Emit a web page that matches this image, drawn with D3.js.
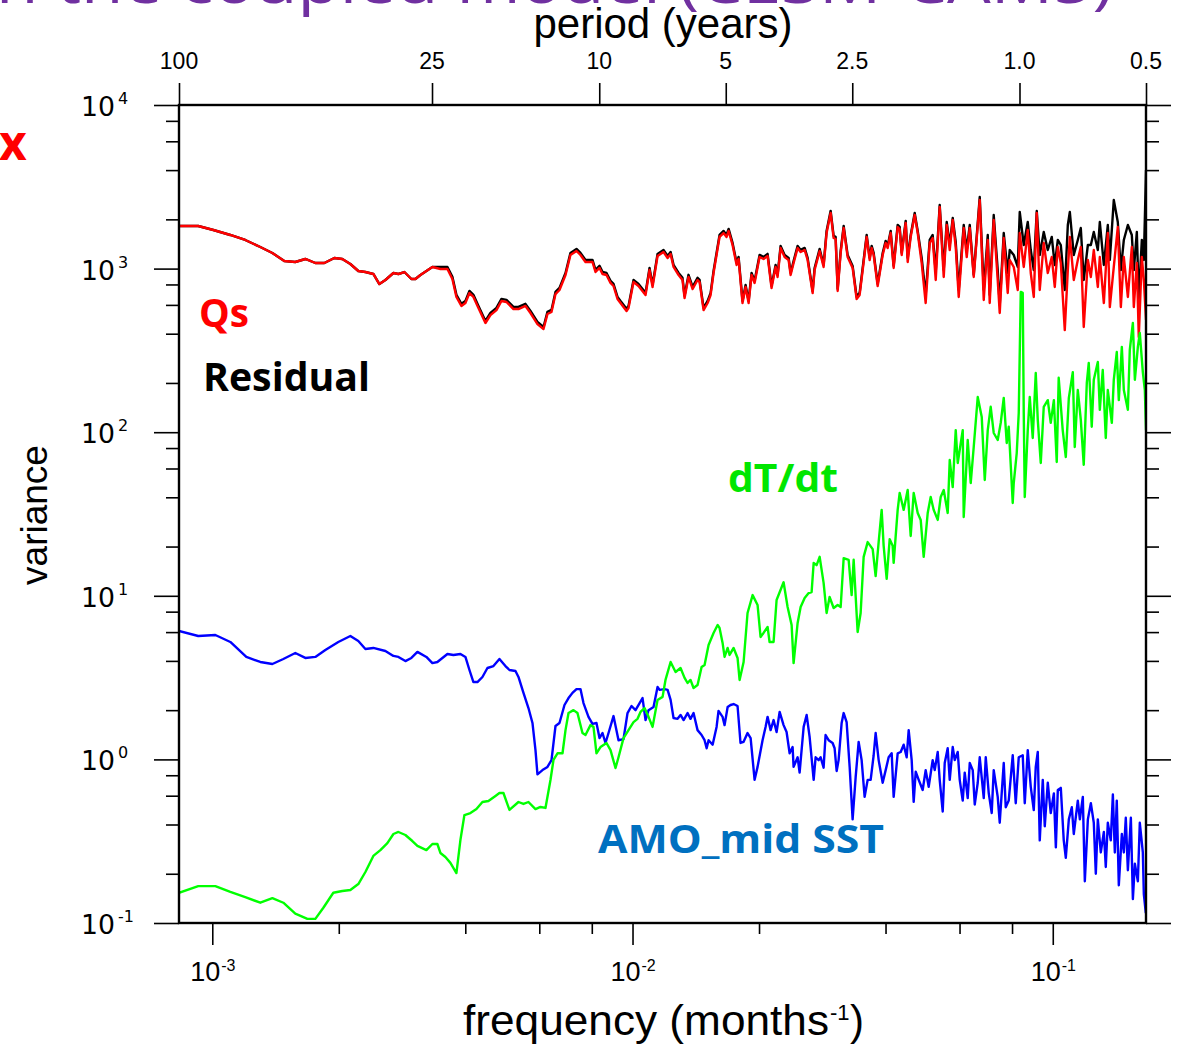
<!DOCTYPE html>
<html>
<head>
<meta charset="utf-8">
<script src="https://cdn.jsdelivr.net/npm/d3@7"></script>
<style>
  body { margin: 0; background: #fff; }
  svg { display: block; }
</style>
</head>
<body>
<svg id="chart" width="1179" height="1044"></svg>
<script>
// ---- data: [frequency (months^-1), variance] ----
var qs = [
  [0.000833,1822],[0.000926,1822],[0.001006,1722],[0.001104,1605],[0.001198,1496],[0.001301,1355],
  [0.00139,1245],[0.001484,1113],[0.001576,1097],[0.001665,1145],[0.001759,1082],[0.001848,1082],
  [0.001952,1161],[0.002039,1145],[0.002131,1067],[0.002226,967],[0.002314,953],[0.002417,927],
  [0.002498,805],[0.002582,852],[0.002698,940],[0.002773,927],[0.002865,953],[0.002977,864],
  [0.003043,864],[0.003128,914],[0.00334,1023],[0.00349,994],[0.003627,994],[0.003727,864],
  [0.00381,671],[0.003916,591],[0.004003,616],[0.004092,709],[0.004182,671],[0.004299,574],
  [0.004467,465],[0.004591,520],[0.004745,558],[0.004877,634],[0.005012,625],[0.005208,566],
  [0.005353,566],[0.005562,591],[0.005717,535],[0.00594,458],[0.00614,427],[0.006275,528],
  [0.006415,543],[0.006557,699],[0.006702,740],[0.006927,914],[0.007117,1211],[0.007356,1281],
  [0.007519,1211],[0.007728,1097],[0.00803,1097],[0.008164,953],[0.008345,1009],[0.008483,927],
  [0.008671,914],[0.008864,817],[0.00901,783],[0.00921,652],[0.009363,616],[0.009677,551],
  [0.009783,574],[0.010055,828],[0.010334,783],[0.010739,690],[0.010977,980],[0.01116,772],
  [0.01147,1194],[0.01185,1263],[0.01212,1161],[0.01232,1228],[0.01252,1023],[0.01287,914],
  [0.01315,852],[0.0133,661],[0.01359,889],[0.0139,750],[0.01428,852],[0.01444,828],
  [0.01476,558],[0.01509,616],[0.01534,690],[0.01559,940],[0.01611,1561],[0.01647,1650],
  [0.01674,1561],[0.01693,1698],[0.0173,1394],[0.01769,1052],[0.01788,1145],[0.01827,616],
  [0.01858,772],[0.01889,616],[0.0192,914],[0.01952,817],[0.02006,1177],[0.0205,1145],
  [0.02096,1194],[0.02142,761],[0.0219,1023],[0.02214,889],[0.02251,1336],[0.02301,1177],
  [0.02352,1129],[0.02378,914],[0.02417,1082],[0.02471,1336],[0.02512,1263],[0.02568,1299],
  [0.0261,1129],[0.02683,709],[0.02712,980],[0.02788,1281],[0.02849,1023],[0.02896,1650],
  [0.02961,2188],[0.0301,1538],[0.03043,1517],[0.03077,730],[0.03128,1245],[0.0318,1771],
  [0.0325,1177],[0.0334,1009],[0.03414,652],[0.03471,690],[0.03548,1097],[0.03607,1561],
  [0.03667,1129],[0.03707,1336],[0.03748,1211],[0.03831,783],[0.03938,1211],[0.04003,1434],
  [0.04047,1336],[0.04114,1650],[0.04182,1009],[0.04275,1796],[0.04322,1746],[0.0437,1211],
  [0.04467,1900],[0.04516,1097],[0.04591,1561],[0.04693,2126],[0.04771,1650],[0.04876,1082],
  [0.04984,616],[0.05095,1434],[0.05179,1538],[0.05266,852],[0.05382,2379],[0.05502,889],
  [0.05593,1847],[0.05686,1299],[0.0578,1982],[0.05876,1355],[0.05973,671],[0.06139,1771],
  [0.06241,1177],[0.06345,1771],[0.06485,889],[0.06702,2627],[0.06851,643],[0.07003,1496],
  [0.07079,616],[0.07236,1982],[0.07396,852],[0.07478,535],[0.07644,1538],[0.07813,709],
  [0.07899,1129],[0.08075,1023],[0.08254,740],[0.08345,1650],[0.0853,1023],[0.08719,1722],
  [0.08864,940],[0.09011,671],[0.0916,2188],[0.09311,740],[0.09518,1434],[0.0973,940],
  [0.09945,1177],[0.1011,772],[0.1028,1355],[0.1045,1082],[0.1068,421],[0.1086,980],
  [0.1098,1561],[0.1122,852],[0.1147,1129],[0.1166,1355],[0.1185,440],[0.1212,1129],
  [0.1232,889],[0.1252,1299],[0.128,772],[0.1294,1177],[0.1323,616],[0.1352,1650],
  [0.1367,582],[0.1397,1023],[0.1428,1796],[0.1452,582],[0.1476,1177],[0.1509,671],
  [0.1542,1355],[0.1559,582],[0.1585,1082],[0.1602,382],[0.1629,1177],[0.1647,852],[0.1667,485]
];

var residual = [
  [0.000833,1822],[0.000926,1822],[0.001006,1722],[0.001104,1605],[0.001198,1496],[0.001301,1355],
  [0.00139,1245],[0.001484,1113],[0.001576,1097],[0.001665,1145],[0.001759,1082],[0.001848,1082],
  [0.001952,1161],[0.002039,1145],[0.002131,1067],[0.002226,967],[0.002314,953],[0.002417,927],
  [0.002498,805],[0.002582,852],[0.002698,940],[0.002773,927],[0.002865,953],[0.002977,864],
  [0.003043,864],[0.003128,914],[0.00334,1023],[0.00349,1024],[0.003627,1024],[0.003727,890],
  [0.00381,691],[0.003916,609],[0.004003,634],[0.004092,730],[0.004182,691],[0.004299,591],
  [0.004467,479],[0.004591,536],[0.004745,575],[0.004877,653],[0.005012,644],[0.005208,583],
  [0.005353,583],[0.005562,609],[0.005717,551],[0.00594,472],[0.00614,440],[0.006275,544],
  [0.006415,559],[0.006557,720],[0.006702,762],[0.006927,941],[0.007117,1247],[0.007356,1319],
  [0.007519,1247],[0.007728,1130],[0.00803,1130],[0.008164,982],[0.008345,1039],[0.008483,955],
  [0.008671,941],[0.008864,842],[0.00901,806],[0.00921,672],[0.009363,634],[0.009677,568],
  [0.009783,591],[0.010055,853],[0.010334,806],[0.010739,711],[0.010977,1009],[0.01116,795],
  [0.01147,1230],[0.01185,1301],[0.01212,1196],[0.01232,1265],[0.01252,1054],[0.01287,941],
  [0.01315,878],[0.0133,681],[0.01359,916],[0.0139,773],[0.01428,878],[0.01444,853],
  [0.01476,575],[0.01509,634],[0.01534,711],[0.01559,968],[0.01611,1608],[0.01647,1700],
  [0.01674,1608],[0.01693,1749],[0.0173,1436],[0.01769,1084],[0.01788,1179],[0.01827,634],
  [0.01858,795],[0.01889,634],[0.0192,941],[0.01952,842],[0.02006,1212],[0.0205,1179],
  [0.02096,1230],[0.02142,784],[0.0219,1054],[0.02214,916],[0.02251,1376],[0.02301,1212],
  [0.02352,1163],[0.02378,941],[0.02417,1114],[0.02471,1376],[0.02512,1301],[0.02568,1338],
  [0.0261,1163],[0.02683,730],[0.02712,1009],[0.02788,1319],[0.02849,1054],[0.02896,1700],
  [0.02961,2254],[0.0301,1584],[0.03043,1563],[0.03077,752],[0.03128,1282],[0.0318,1824],
  [0.0325,1212],[0.0334,1039],[0.03414,672],[0.03471,711],[0.03548,1130],[0.03607,1608],
  [0.03667,1163],[0.03707,1376],[0.03748,1247],[0.03831,806],[0.03938,1247],[0.04003,1477],
  [0.04047,1376],[0.04114,1700],[0.04182,1039],[0.04275,1850],[0.04322,1798],[0.0437,1247],
  [0.04467,1957],[0.04516,1161],[0.04591,1605],[0.04693,2188],[0.04771,1698],[0.04876,1161],
  [0.04984,690],[0.05095,1496],[0.05179,1605],[0.05266,953],[0.05382,2448],[0.05502,980],
  [0.05593,1926],[0.05686,1394],[0.0578,2038],[0.05876,1455],[0.05973,740],[0.06139,1847],
  [0.06241,1299],[0.06345,1847],[0.06485,914],[0.06702,2740],[0.06851,740],[0.07003,1605],
  [0.07079,690],[0.07236,2126],[0.07396,980],[0.07478,599],[0.07644,1650],[0.07813,940],
  [0.07899,1299],[0.08075,1211],[0.08254,1023],[0.08345,2218],[0.0853,1394],[0.08719,1926],
  [0.08864,1299],[0.09011,980],[0.0916,2250],[0.09311,1211],[0.09518,1674],[0.0973,1299],
  [0.09945,1561],[0.1011,1052],[0.1028,1496],[0.1045,1394],[0.1068,740],[0.1086,1847],
  [0.1098,2218],[0.1122,1211],[0.1147,1496],[0.1166,1771],[0.1185,852],[0.1212,1394],
  [0.1232,1394],[0.1252,1674],[0.128,1299],[0.1294,1926],[0.1323,1052],[0.1352,1847],
  [0.1367,1129],[0.1397,2627],[0.1428,1926],[0.1452,980],[0.1476,1496],[0.1509,1847],
  [0.1542,1605],[0.1559,980],[0.1585,1674],[0.1602,643],[0.1629,1496],[0.1647,1129],[0.1667,4007]
];

var dTdt = [
  [0.000833,0.153],[0.000926,0.168],[0.001017,0.168],[0.001104,0.155],[0.001198,0.144],[0.001301,0.133],
  [0.00139,0.142],[0.001476,0.133],[0.001576,0.114],[0.001684,0.106],[0.001759,0.106],[0.001838,0.124],
  [0.001941,0.153],[0.002039,0.157],[0.002131,0.159],[0.002226,0.173],[0.002314,0.205],[0.002417,0.257],
  [0.002512,0.279],[0.00261,0.308],[0.002698,0.350],[0.002773,0.360],[0.002881,0.345],[0.002993,0.317],
  [0.003077,0.296],[0.003232,0.279],[0.00334,0.304],[0.003433,0.304],[0.00349,0.268],[0.003587,0.253],
  [0.003687,0.233],[0.00381,0.202],[0.003895,0.322],[0.003981,0.457],[0.004114,0.470],[0.004252,0.497],
  [0.004394,0.549],[0.004541,0.557],[0.004719,0.598],[0.004823,0.623],[0.00493,0.623],[0.005095,0.491],
  [0.005353,0.549],[0.005502,0.534],[0.005654,0.549],[0.005876,0.497],[0.006039,0.512],[0.006207,0.505],
  [0.006379,0.748],[0.006485,0.992],[0.006629,1.09],[0.006814,1.09],[0.006927,1.51],[0.007042,1.92],
  [0.007236,2.00],[0.007396,1.92],[0.007602,1.45],[0.007728,1.41],[0.007943,1.62],[0.008075,1.58],
  [0.008208,1.09],[0.008391,1.19],[0.008671,1.26],[0.008864,1.14],[0.00911,0.886],[0.009261,1.03],
  [0.009518,1.35],[0.009783,1.51],[0.010055,1.69],[0.010278,1.77],[0.010448,1.95],[0.01068,2.06],
  [0.010917,1.82],[0.01116,1.58],[0.01147,2.31],[0.01179,2.41],[0.01198,3.06],[0.01232,3.94],
  [0.01266,3.42],[0.01301,3.62],[0.0133,3.15],[0.01352,2.93],[0.01374,3.06],[0.01397,2.73],
  [0.01428,2.85],[0.0146,3.67],[0.01484,3.78],[0.01517,5.00],[0.01559,5.93],[0.01594,6.63],
  [0.01611,6.36],[0.01638,5.15],[0.01656,4.23],[0.01684,4.80],[0.01702,4.35],[0.0174,4.80],
  [0.01778,4.17],[0.01798,3.06],[0.01838,3.94],[0.01878,7.85],[0.01931,10.1],[0.01984,8.79],
  [0.02017,5.60],[0.0205,5.93],[0.02096,6.45],[0.02119,5.22],[0.02166,5.22],[0.02202,9.43],
  [0.02288,12.1],[0.02339,8.54],[0.02391,6.63],[0.02417,3.88],[0.02471,6.82],[0.02512,8.54],
  [0.02568,9.70],[0.02625,10.4],[0.02668,10.55],[0.02698,15.9],[0.02742,15.4],[0.02788,17.3],
  [0.02849,12.0],[0.02896,7.85],[0.02944,9.83],[0.0301,8.42],[0.03077,8.79],[0.03128,8.54],
  [0.0318,17.0],[0.03268,16.6],[0.03322,10.1],[0.03359,16.6],[0.03433,6.01],[0.0349,7.85],
  [0.03548,17.3],[0.03627,21.3],[0.03728,19.3],[0.03789,13.2],[0.03852,21.3],[0.03916,33.5],
  [0.03959,20.2],[0.04025,12.7],[0.04092,22.2],[0.04159,20.2],[0.04182,15.9],[0.04275,33.5],
  [0.04322,42.5],[0.04418,33.5],[0.04516,44.3],[0.04591,23.2],[0.04667,42.5],[0.04771,32.1],
  [0.0485,29.1],[0.0493,17.3],[0.0504,32.1],[0.05123,40.2],[0.05208,33.5],[0.05324,29.1],
  [0.05412,40.2],[0.05502,44.3],[0.05623,32.1],[0.05686,67.6],[0.0578,46.2],[0.05876,103],
  [0.05941,64.8],[0.06106,103],[0.06139,30.3],[0.06275,89.6],[0.06379,48.9],[0.06485,81.2],
  [0.06629,164],[0.06776,124],[0.06889,51.0],[0.07003,103],[0.07117,143],[0.07236,98.9],
  [0.07396,89.6],[0.07519,114],[0.07644,162],[0.0777,85.9],[0.07856,108],[0.0803,36.9],
  [0.08075,48.9],[0.08208,74.6],[0.08299,131],[0.08391,720],[0.08483,710],[0.0853,131],
  [0.08577,40.2],[0.08719,103],[0.08815,164],[0.08961,92.2],[0.0911,230],[0.09211,119],
  [0.09363,64.8],[0.09518,143],[0.0973,157],[0.0989,114],[0.1006,157],[0.1022,65.7],
  [0.1033,215],[0.1056,103],[0.1074,70.5],[0.1092,162],[0.1116,233],[0.1128,81.2],
  [0.1147,181],[0.1166,119],[0.1185,63.2],[0.1205,200],[0.1218,265],[0.1238,108],
  [0.1252,209],[0.128,269],[0.1294,137],[0.1315,240],[0.1337,92.2],[0.1352,181],
  [0.1382,114],[0.1397,209],[0.142,309],[0.1436,157],[0.146,332],[0.1476,181],
  [0.1509,137],[0.1525,318],[0.1551,465],[0.1568,209],[0.1594,332],[0.1611,404],
  [0.1638,233],[0.1656,181],[0.1667,103]
];

var amoMid = [
  [0.000833,6.09],[0.000926,5.68],[0.001017,5.76],[0.001104,5.22],[0.001205,4.23],[0.001301,3.94],
  [0.00139,3.83],[0.001476,4.11],[0.001576,4.47],[0.001665,4.17],[0.001759,4.23],[0.001858,4.66],
  [0.001995,5.22],[0.002131,5.68],[0.002226,5.29],[0.002314,4.73],[0.002417,4.80],[0.002582,4.60],
  [0.002698,4.29],[0.002773,4.23],[0.002881,3.99],[0.002977,4.17],[0.003077,4.54],[0.003232,4.23],
  [0.00334,3.88],[0.003433,3.94],[0.003627,4.41],[0.003748,4.35],[0.003895,4.41],[0.004003,4.23],
  [0.004092,3.52],[0.004182,2.97],[0.004275,2.97],[0.004394,3.19],[0.004516,3.62],[0.004667,3.72],
  [0.004823,4.11],[0.004984,3.72],[0.005095,3.52],[0.005266,3.47],[0.005353,3.19],[0.005502,2.55],
  [0.005654,2.06],[0.00578,1.67],[0.005876,1.14],[0.00594,0.81],[0.006106,0.86],[0.006275,0.90],
  [0.006415,0.99],[0.006557,1.60],[0.006702,1.67],[0.006888,2.15],[0.007042,2.37],[0.007196,2.55],
  [0.007356,2.69],[0.007519,2.69],[0.007644,2.21],[0.007856,1.82],[0.00803,1.65],[0.008208,1.67],
  [0.008345,1.35],[0.008483,1.45],[0.008624,1.26],[0.008768,1.45],[0.00901,1.84],[0.009261,1.31],
  [0.009518,1.33],[0.00973,1.92],[0.009945,2.12],[0.010166,2.00],[0.010564,2.37],[0.010739,1.74],
  [0.010917,2.00],[0.01122,2.09],[0.01147,2.77],[0.0116,2.66],[0.01192,2.69],[0.01212,2.66],
  [0.01232,2.31],[0.01252,1.79],[0.0128,1.77],[0.01301,1.87],[0.01323,1.74],[0.01352,1.92],
  [0.01374,1.77],[0.01397,1.92],[0.01428,1.51],[0.0146,1.41],[0.01484,1.31],[0.01501,1.17],
  [0.01517,1.31],[0.01551,1.23],[0.01585,1.58],[0.01602,1.98],[0.01638,1.82],[0.01656,1.62],
  [0.01684,2.09],[0.01711,2.15],[0.0174,2.18],[0.01778,2.12],[0.01807,1.26],[0.01838,1.28],
  [0.01878,1.45],[0.0191,1.35],[0.01952,0.75],[0.01984,0.90],[0.02039,1.31],[0.02073,1.58],
  [0.02096,1.82],[0.02131,1.51],[0.02166,1.74],[0.02202,1.47],[0.02239,1.95],[0.02288,1.62],
  [0.02326,1.47],[0.02365,1.09],[0.02404,1.19],[0.02417,0.90],[0.02471,1.03],[0.02498,0.83],
  [0.02554,1.58],[0.02596,1.87],[0.02639,1.37],[0.02698,0.75],[0.02727,1.03],[0.02773,0.99],
  [0.02803,1.03],[0.02849,0.89],[0.0288,1.41],[0.02928,1.31],[0.02993,1.26],[0.03026,1.17],
  [0.0306,0.85],[0.03093,0.99],[0.03145,1.67],[0.0318,1.92],[0.03232,1.69],[0.03286,0.90],
  [0.0334,0.43],[0.03396,0.78],[0.03452,1.28],[0.03509,0.99],[0.03567,0.59],[0.03627,0.75],
  [0.03687,0.75],[0.03748,1.06],[0.03789,1.45],[0.03852,0.99],[0.03938,0.72],[0.04003,0.86],
  [0.04069,1.03],[0.04137,1.09],[0.04182,0.59],[0.04275,1.09],[0.04346,1.11],[0.04418,1.23],
  [0.04491,1.03],[0.04541,1.51],[0.04616,0.99],[0.04667,0.55],[0.04719,0.84],[0.04797,0.75],
  [0.04903,0.65],[0.04984,0.86],[0.05067,0.68],[0.05179,0.99],[0.05237,0.86],[0.05324,1.11],
  [0.05382,0.75],[0.05472,0.48],[0.05532,0.95],[0.05623,1.17],[0.05686,0.75],[0.0578,1.19],
  [0.05844,0.99],[0.05941,1.11],[0.06006,0.75],[0.06106,0.56],[0.06173,0.83],[0.06275,0.58],
  [0.06345,0.95],[0.0645,0.86],[0.06521,0.53],[0.06629,0.72],[0.06702,1.03],[0.06851,0.58],
  [0.06927,1.03],[0.07042,0.62],[0.07157,0.47],[0.07236,0.86],[0.07396,0.59],[0.07478,0.41],
  [0.07644,0.95],[0.07728,0.51],[0.07856,0.56],[0.0803,1.06],[0.08164,0.54],[0.08299,1.03],
  [0.08483,1.06],[0.08577,0.54],[0.08719,1.14],[0.08864,0.68],[0.09011,0.49],[0.0911,0.90],
  [0.09211,1.11],[0.09311,0.32],[0.09467,0.75],[0.09571,0.39],[0.0973,0.72],[0.0989,0.47],
  [0.1006,0.62],[0.1017,0.29],[0.1028,0.65],[0.1045,0.67],[0.1062,0.32],[0.1074,0.25],
  [0.1092,0.43],[0.111,0.51],[0.1122,0.35],[0.1147,0.56],[0.116,0.43],[0.1179,0.59],
  [0.1192,0.18],[0.1212,0.43],[0.1232,0.54],[0.1252,0.41],[0.1266,0.20],[0.128,0.43],
  [0.1301,0.27],[0.1323,0.36],[0.1337,0.22],[0.1352,0.41],[0.1374,0.32],[0.139,0.61],
  [0.1405,0.27],[0.142,0.56],[0.1436,0.17],[0.146,0.35],[0.1476,0.27],[0.1492,0.44],
  [0.1509,0.21],[0.1534,0.44],[0.1551,0.14],[0.1568,0.23],[0.1594,0.18],[0.1611,0.41],
  [0.1638,0.27],[0.1647,0.15],[0.1665,0.115]
];

// axis ticks
var periodYears = [100, 25, 10, 5, 2.5, 1.0, 0.5];
var periodLabels = ["100", "25", "10", "5", "2.5", "1.0", "0.5"];
var yDecades = [-1, 0, 1, 2, 3, 4];
var xDecades = [-3, -2, -1];
var minorMult = [2, 4, 6, 8];

var svg = d3.select("#chart");
var plotL = 179, plotR = 1146, plotT = 105, plotB = 923;

var x = d3.scaleLog().domain([1 / 1200, 1 / 6]).range([plotL, plotR]);
var y = d3.scaleLog().domain([0.1, 10000]).range([plotB, plotT]);

svg.append("rect").attr("width", 1179).attr("height", 1044).attr("fill", "#fff");

svg.append("defs").append("clipPath").attr("id", "plotClip")
  .append("rect").attr("x", plotL).attr("y", plotT - 2)
  .attr("width", plotR - plotL + 1).attr("height", plotB - plotT + 2);

// title (cut off at the top of the slide)
svg.append("text")
  .attr("x", -4).attr("y", 3)
  .attr("textLength", 1117).attr("lengthAdjust", "spacingAndGlyphs")
  .style("font-family", "'Open Sans', sans-serif").style("font-size", "58px")
  .attr("fill", "#7030a0")
  .text("n the coupled model (CESM-CAM5)");

svg.append("text")
  .attr("x", -1).attr("y", 160)
  .style("font-family", "'Open Sans', sans-serif").style("font-size", "48px")
  .style("font-weight", "700").attr("fill", "#ff0000")
  .text("x");

// ticks
var yMajor = yDecades.map(function (e) { return Math.pow(10, e); });
var yMinor = [];
yDecades.slice(0, -1).forEach(function (e) {
  minorMult.forEach(function (m) { yMinor.push(m * Math.pow(10, e)); });
});
var xMajor = xDecades.map(function (e) { return Math.pow(10, e); });
var xMinor = [];
[-3, -2].forEach(function (e) {
  minorMult.forEach(function (m) { xMinor.push(m * Math.pow(10, e)); });
});
var periodFreq = periodYears.map(function (p) { return 1 / (12 * p); });

function tickAxis(axis, values, size, transform) {
  var g = svg.append("g").attr("transform", transform)
    .call(axis.tickValues(values).tickSize(size).tickFormat(""));
  g.select(".domain").remove();
  g.selectAll("line").attr("stroke", "#000").attr("stroke-width", 1.6);
  return g;
}
tickAxis(d3.axisLeft(y), yMajor, 25, "translate(" + plotL + ",0)");
tickAxis(d3.axisLeft(y), yMinor, 13, "translate(" + plotL + ",0)");
tickAxis(d3.axisRight(y), yMajor, 25, "translate(" + plotR + ",0)");
tickAxis(d3.axisRight(y), yMinor, 13, "translate(" + plotR + ",0)");
tickAxis(d3.axisBottom(x), xMajor, 22, "translate(0," + plotB + ")");
tickAxis(d3.axisBottom(x), xMinor, 11, "translate(0," + plotB + ")");
tickAxis(d3.axisTop(x), periodFreq, 22, "translate(0," + plotT + ")");

// series lines
var line = d3.line()
  .x(function (d) { return x(d[0]); })
  .y(function (d) { return y(d[1]); });

var lines = svg.append("g").attr("clip-path", "url(#plotClip)");
[
  { data: residual, color: "#000000" },
  { data: qs, color: "#ff0000" },
  { data: amoMid, color: "#0000ff" },
  { data: dTdt, color: "#00ff00" }
].forEach(function (s) {
  lines.append("path").datum(s.data)
    .attr("d", line)
    .attr("fill", "none")
    .attr("stroke", s.color)
    .attr("stroke-width", 2.4)
    .attr("stroke-linejoin", "round");
});

// frame
svg.append("rect")
  .attr("x", plotL).attr("y", plotT)
  .attr("width", plotR - plotL).attr("height", plotB - plotT)
  .attr("fill", "none").attr("stroke", "#000").attr("stroke-width", 2.4);

// left tick labels
yDecades.forEach(function (e) {
  var ty = y(Math.pow(10, e));
  svg.append("text").attr("x", 81).attr("y", ty + 11)
    .attr("textLength", 34).attr("lengthAdjust", "spacingAndGlyphs")
    .style("font-family", "'DejaVu Sans', sans-serif").style("font-size", "26px")
    .text("10");
  svg.append("text").attr("x", 118).attr("y", ty - 1)
    .style("font-family", "'DejaVu Sans', sans-serif").style("font-size", "16px")
    .text(String(e));
});

// bottom tick labels
xDecades.forEach(function (e) {
  var tx = x(Math.pow(10, e));
  svg.append("text").attr("x", tx - 22).attr("y", 981)
    .style("font-family", "'Liberation Sans', Arial, sans-serif").style("font-size", "27px")
    .text("10");
  svg.append("text").attr("x", tx + 9).attr("y", 971)
    .style("font-family", "'Liberation Sans', Arial, sans-serif").style("font-size", "16px")
    .text(String(e));
});

// top tick labels (period)
periodFreq.forEach(function (f, i) {
  svg.append("text").attr("x", x(f)).attr("y", 69)
    .attr("text-anchor", "middle")
    .style("font-family", "'Liberation Sans', Arial, sans-serif").style("font-size", "23px")
    .text(periodLabels[i]);
});

// axis titles
var axisFont = "'Liberation Sans', Arial, sans-serif";
svg.append("text").attr("x", 663).attr("y", 38)
  .attr("text-anchor", "middle")
  .style("font-family", axisFont).style("font-size", "42px")
  .text("period (years)");

svg.append("text")
  .attr("transform", "translate(47,515) rotate(-90)")
  .attr("text-anchor", "middle")
  .style("font-family", axisFont).style("font-size", "37px")
  .text("variance");

svg.append("text").attr("x", 463).attr("y", 1035)
  .attr("textLength", 366).attr("lengthAdjust", "spacingAndGlyphs")
  .style("font-family", axisFont).style("font-size", "42px")
  .text("frequency (months");
svg.append("text").attr("x", 830).attr("y", 1020)
  .style("font-family", axisFont).style("font-size", "22px")
  .text("-1");
svg.append("text").attr("x", 850).attr("y", 1035)
  .style("font-family", axisFont).style("font-size", "42px")
  .text(")");

// series labels
var labelFont = "'Open Sans', 'Noto Sans', sans-serif";
[
  { text: "Qs", x: 199, y: 327, w: 50, color: "#ff0000" },
  { text: "Residual", x: 203, y: 391, w: 167, color: "#000000" },
  { text: "dT/dt", x: 728, y: 492, w: 110, color: "#00e600" },
  { text: "AMO_mid SST", x: 598, y: 853, w: 286, color: "#0070c0" }
].forEach(function (l) {
  svg.append("text").attr("x", l.x).attr("y", l.y)
    .attr("textLength", l.w).attr("lengthAdjust", "spacingAndGlyphs")
    .style("font-family", labelFont).style("font-size", "40px").style("font-weight", "700")
    .attr("fill", l.color)
    .text(l.text);
});
</script>
</body>
</html>
